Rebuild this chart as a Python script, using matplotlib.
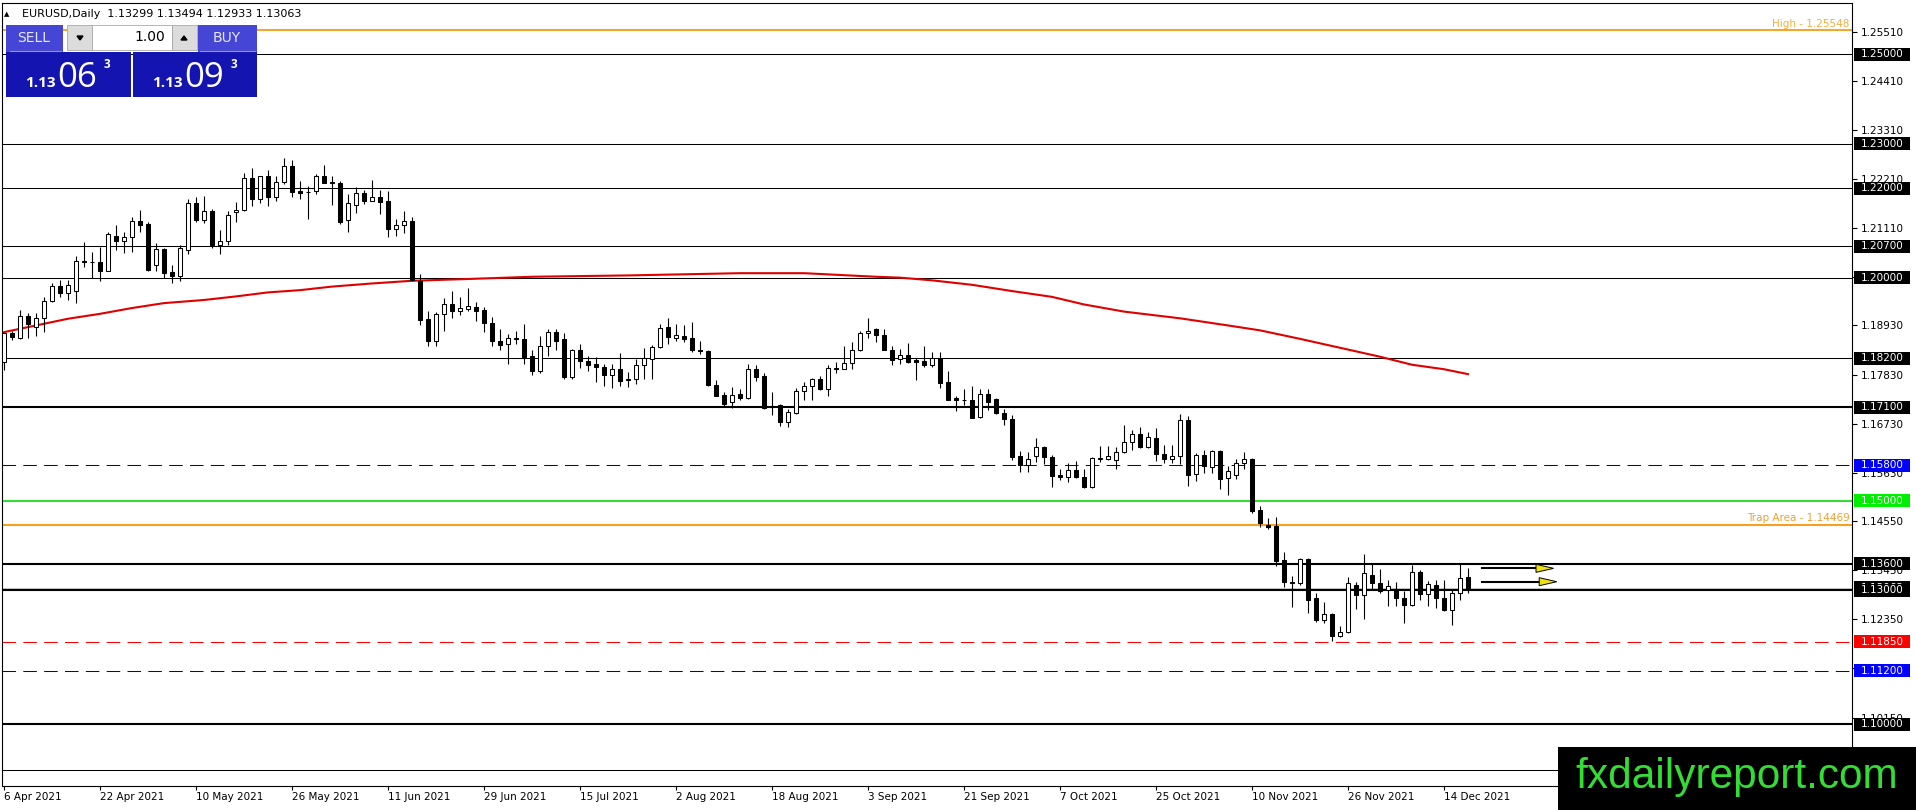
import numpy as np
import pandas as pd
import matplotlib
matplotlib.use("Agg")
import matplotlib.pyplot as plt
from matplotlib.patches import Rectangle, Polygon
import matplotlib.transforms as mtransforms

plt.rcParams['font.family'] = ['DejaVu Sans']

# --- data: EURUSD daily bars, 6 Apr 2021 .. 17 Dec 2021 ---
opens = [
    1.1811, 1.1876, 1.1866, 1.1914, 1.1889, 1.1909, 1.1947, 1.1981, 1.1965, 1.1971,
    1.2037, 1.2035, 1.2035, 1.2014, 1.2093, 1.2083, 1.2090, 1.2126, 1.2120, 1.2029,
    1.2064, 1.2013, 1.2003, 1.2063, 1.2167, 1.2128, 1.2149, 1.2072, 1.2081, 1.2146,
    1.2152, 1.2223, 1.2175, 1.2227, 1.2180, 1.2214, 1.2249, 1.2193, 1.2192, 1.2193,
    1.2227, 1.2214, 1.2212, 1.2128, 1.2162, 1.2189, 1.2172, 1.2180, 1.2171, 1.2108,
    1.2119, 1.2126, 1.1993, 1.1908, 1.1858, 1.1918, 1.1940, 1.1925, 1.1930, 1.1934,
    1.1928, 1.1898, 1.1858, 1.1851, 1.1865, 1.1863, 1.1824, 1.1790, 1.1846, 1.1878,
    1.1863, 1.1777, 1.1838, 1.1813, 1.1807, 1.1801, 1.1781, 1.1796, 1.1772, 1.1772,
    1.1804, 1.1818, 1.1844, 1.1889, 1.1864, 1.1869, 1.1865, 1.1838, 1.1835, 1.1760,
    1.1737, 1.1721, 1.1740, 1.1730, 1.1796, 1.1779, 1.1713, 1.1714, 1.1677, 1.1697,
    1.1746, 1.1757, 1.1774, 1.1751, 1.1798, 1.1796, 1.1809, 1.1839, 1.1876, 1.1884,
    1.1872, 1.1839, 1.1817, 1.1826, 1.1816, 1.1813, 1.1804, 1.1820, 1.1766, 1.1731,
    1.1727, 1.1727, 1.1688, 1.1739, 1.1729, 1.1697, 1.1684, 1.1600, 1.1580, 1.1601,
    1.1621, 1.1598, 1.1559, 1.1554, 1.1569, 1.1554, 1.1531, 1.1596, 1.1595, 1.1591,
    1.1610, 1.1632, 1.1650, 1.1621, 1.1641, 1.1606, 1.1593, 1.1600, 1.1681, 1.1561,
    1.1604, 1.1576, 1.1613, 1.1552, 1.1559, 1.1585, 1.1593, 1.1479, 1.1447, 1.1444,
    1.1367, 1.1319, 1.1317, 1.1369, 1.1283, 1.1233, 1.1247, 1.1197, 1.1206, 1.1313,
    1.1289, 1.1335, 1.1317, 1.1300, 1.1300, 1.1283, 1.1267, 1.1341, 1.1292, 1.1313,
    1.1283, 1.1256, 1.1293, 1.13299,
]
highs = [
    1.1875, 1.1881, 1.1928, 1.1921, 1.1921, 1.1956, 1.1988, 1.1995, 1.1995, 1.2048,
    1.2079, 1.2057, 1.2068, 1.2102, 1.2118, 1.2102, 1.2135, 1.2152, 1.2124, 1.2077,
    1.2066, 1.2028, 1.2072, 1.2175, 1.2180, 1.2182, 1.2154, 1.2107, 1.2149, 1.2169,
    1.2234, 1.2245, 1.2228, 1.2241, 1.2228, 1.2267, 1.2264, 1.2216, 1.2206, 1.2231,
    1.2253, 1.2227, 1.2216, 1.2187, 1.2202, 1.2196, 1.2219, 1.2196, 1.2193, 1.2131,
    1.2149, 1.2135, 1.2008, 1.1926, 1.1923, 1.1954, 1.1970, 1.1956, 1.1976, 1.1946,
    1.1934, 1.1911, 1.1885, 1.1874, 1.1881, 1.1896, 1.1838, 1.1869, 1.1884, 1.1884,
    1.1875, 1.1840, 1.1852, 1.1824, 1.1822, 1.1807, 1.1807, 1.1831, 1.1788, 1.1818,
    1.1843, 1.1849, 1.1896, 1.1910, 1.1896, 1.1893, 1.1900, 1.1859, 1.1838, 1.1771,
    1.1743, 1.1755, 1.1751, 1.1807, 1.1804, 1.1787, 1.1744, 1.1718, 1.1707, 1.1754,
    1.1766, 1.1776, 1.1780, 1.1805, 1.1811, 1.1848, 1.1857, 1.1880, 1.1910, 1.1888,
    1.1884, 1.1848, 1.1841, 1.1854, 1.1819, 1.1848, 1.1833, 1.1833, 1.1792, 1.1736,
    1.1751, 1.1757, 1.1751, 1.1750, 1.1730, 1.1705, 1.1693, 1.1612, 1.1610, 1.1641,
    1.1624, 1.1602, 1.1572, 1.1585, 1.1589, 1.1571, 1.1598, 1.1624, 1.1624, 1.1621,
    1.1669, 1.1660, 1.1666, 1.1654, 1.1664, 1.1626, 1.1625, 1.1694, 1.1691, 1.1608,
    1.1614, 1.1615, 1.1615, 1.1578, 1.1594, 1.1609, 1.1596, 1.1488, 1.1462, 1.1465,
    1.1386, 1.1333, 1.1373, 1.1373, 1.1293, 1.1274, 1.1250, 1.1220, 1.1330, 1.1318,
    1.1382, 1.1359, 1.1348, 1.1324, 1.1318, 1.1298, 1.1356, 1.1345, 1.1321, 1.1322,
    1.1324, 1.1302, 1.1359, 1.13494,
]
lows = [
    1.1793, 1.1861, 1.1863, 1.1866, 1.1870, 1.1878, 1.1945, 1.1956, 1.1951, 1.1943,
    1.2023, 1.1999, 1.1993, 1.2014, 1.2061, 1.2055, 1.2057, 1.2102, 1.2016, 1.2014,
    1.1999, 1.1987, 1.1993, 1.2052, 1.2125, 1.2123, 1.2066, 1.2052, 1.2072, 1.2125,
    1.2150, 1.2160, 1.2167, 1.2161, 1.2172, 1.2210, 1.2180, 1.2175, 1.2131, 1.2187,
    1.2211, 1.2163, 1.2120, 1.2103, 1.2145, 1.2164, 1.2171, 1.2143, 1.2092, 1.2094,
    1.2100, 1.1993, 1.1893, 1.1848, 1.1848, 1.1881, 1.1910, 1.1917, 1.1926, 1.1904,
    1.1879, 1.1846, 1.1839, 1.1807, 1.1852, 1.1807, 1.1783, 1.1787, 1.1825, 1.1837,
    1.1772, 1.1772, 1.1798, 1.1792, 1.1766, 1.1757, 1.1752, 1.1758, 1.1756, 1.1762,
    1.1772, 1.1773, 1.1842, 1.1852, 1.1859, 1.1855, 1.1833, 1.1828, 1.1758, 1.1734,
    1.1713, 1.1708, 1.1725, 1.1729, 1.1768, 1.1707, 1.1693, 1.1667, 1.1666, 1.1694,
    1.1727, 1.1727, 1.1749, 1.1736, 1.1787, 1.1795, 1.1795, 1.1835, 1.1866, 1.1857,
    1.1839, 1.1804, 1.1806, 1.1810, 1.1771, 1.1801, 1.1801, 1.1753, 1.1725, 1.1701,
    1.1716, 1.1686, 1.1686, 1.1703, 1.1695, 1.1669, 1.1591, 1.1565, 1.1565, 1.1587,
    1.1583, 1.1531, 1.1546, 1.1542, 1.1551, 1.1529, 1.1529, 1.1587, 1.1591, 1.1572,
    1.1608, 1.1615, 1.1618, 1.1619, 1.1589, 1.1584, 1.1585, 1.1582, 1.1533, 1.1544,
    1.1563, 1.1563, 1.1526, 1.1513, 1.1550, 1.1571, 1.1474, 1.1441, 1.1438, 1.1354,
    1.1307, 1.1263, 1.1312, 1.1250, 1.1229, 1.1226, 1.1186, 1.1196, 1.1205, 1.1259,
    1.1235, 1.1300, 1.1294, 1.1265, 1.1265, 1.1227, 1.1265, 1.1278, 1.1265, 1.1261,
    1.1253, 1.1222, 1.1279, 1.12933,
]
closes = [
    1.1875, 1.1868, 1.1914, 1.1896, 1.1910, 1.1947, 1.1981, 1.1965, 1.1983, 1.2037,
    1.2034, 1.2034, 1.2014, 1.2098, 1.2083, 1.2090, 1.2126, 1.2119, 1.2017, 1.2064,
    1.2011, 1.2003, 1.2066, 1.2167, 1.2128, 1.2149, 1.2072, 1.2081, 1.2140, 1.2151,
    1.2223, 1.2175, 1.2227, 1.2180, 1.2214, 1.2249, 1.2191, 1.2190, 1.2191, 1.2227,
    1.2213, 1.2211, 1.2125, 1.2167, 1.2189, 1.2172, 1.2180, 1.2170, 1.2108, 1.2119,
    1.2126, 1.1995, 1.1906, 1.1859, 1.1918, 1.1940, 1.1925, 1.1932, 1.1936, 1.1926,
    1.1898, 1.1858, 1.1850, 1.1866, 1.1862, 1.1823, 1.1790, 1.1846, 1.1878, 1.1859,
    1.1777, 1.1838, 1.1813, 1.1805, 1.1799, 1.1781, 1.1796, 1.1769, 1.1770, 1.1805,
    1.1819, 1.1844, 1.1887, 1.1868, 1.1871, 1.1863, 1.1837, 1.1835, 1.1760, 1.1736,
    1.1717, 1.1738, 1.1730, 1.1796, 1.1777, 1.1708, 1.1710, 1.1677, 1.1699, 1.1746,
    1.1757, 1.1772, 1.1751, 1.1798, 1.1796, 1.1809, 1.1839, 1.1877, 1.1881, 1.1871,
    1.1839, 1.1815, 1.1826, 1.1811, 1.1811, 1.1804, 1.1819, 1.1765, 1.1725, 1.1726,
    1.1726, 1.1686, 1.1739, 1.1721, 1.1697, 1.1683, 1.1598, 1.1580, 1.1593, 1.1621,
    1.1598, 1.1557, 1.1554, 1.1569, 1.1554, 1.1531, 1.1596, 1.1593, 1.1601, 1.1610,
    1.1632, 1.1650, 1.1621, 1.1644, 1.1606, 1.1593, 1.1600, 1.1681, 1.1559, 1.1604,
    1.1578, 1.1613, 1.1550, 1.1568, 1.1585, 1.1593, 1.1477, 1.1451, 1.1442, 1.1365,
    1.1319, 1.1316, 1.1370, 1.1278, 1.1233, 1.1247, 1.1197, 1.1207, 1.1317, 1.1289,
    1.1338, 1.1317, 1.1298, 1.1309, 1.1283, 1.1267, 1.1341, 1.1292, 1.1315, 1.1282,
    1.1256, 1.1293, 1.1328, 1.13063,
]
ask_price = 1.13093

# moving average (red), read at these bar positions
ma_bar = [0, 4, 8, 12, 16, 20, 25, 29, 33, 37, 41, 46, 51, 58, 66, 78, 92, 100,
          109, 112, 116, 121, 126, 131, 135, 140, 147, 153, 157, 162, 167, 172,
          176, 180, 183]
ma_val = [1.1878, 1.1893, 1.1908, 1.1919, 1.1932, 1.1943, 1.1950, 1.1958, 1.1967,
          1.1972, 1.1980, 1.1987, 1.1993, 1.1997, 1.2002, 1.2005, 1.2010, 1.2010,
          1.2002, 1.2000, 1.1994, 1.1984, 1.1970, 1.1957, 1.1940, 1.1924, 1.1909,
          1.1893, 1.1882, 1.1863, 1.1843, 1.1823, 1.1805, 1.1795, 1.1784]

# horizontal levels
levels = [1.25, 1.23, 1.22, 1.207, 1.20, 1.182, 1.171, 1.158, 1.15,
          1.136, 1.13, 1.1185, 1.112, 1.10]
level_colors = ['black', 'black', 'black', 'black', 'black', 'black', 'black',
                '#0000a8', '#33dd33', 'black', 'black', '#ff0000', '#0000a8', 'black']
level_widths = [0.75, 0.75, 0.75, 0.75, 0.75, 0.75, 1.5, 0.75, 1.5,
                1.5, 1.5, 0.75, 0.75, 1.5]
level_dashed = [False] * 7 + [True, False, False, False, True, True, False]
level_boxes = ['black'] * 7 + ['#0000ff', '#00ee00', 'black', 'black',
                              '#ff0000', '#0000ff', 'black']
extra_level = 1.0897
high_level = 1.25548
trap_level = 1.14469
arrow_levels = [1.13492, 1.13193]

ytick_vals = [1.2551, 1.2441, 1.2331, 1.2221, 1.2111, 1.2001, 1.1893, 1.1783,
              1.1673, 1.1563, 1.1455, 1.1345, 1.1235, 1.1125, 1.1015]

dates = pd.bdate_range('2021-04-06', periods=len(opens))

# --- figure ---
W, H = 1916, 810
fig = plt.figure(figsize=(W / 100, H / 100), dpi=100)
ax = fig.add_axes([2 / W, 1 - 786 / H, 1850 / W, 783 / H])
ax.set_xlim(-0.25, 231)
ax.set_ylim(1.08619, 1.26149)

o = np.array(opens); h = np.array(highs); l = np.array(lows); c = np.array(closes)
x = np.arange(len(o))
up = c >= o
ax.vlines(x, l, h, color='black', lw=0.8, zorder=3)
body_lo = np.minimum(o, c)
body_h = np.maximum(np.abs(c - o), 0.00004)
ax.bar(x[up], body_h[up], bottom=body_lo[up], width=0.55, color='white',
       edgecolor='black', lw=0.75, zorder=4)
ax.bar(x[~up], body_h[~up], bottom=body_lo[~up], width=0.55, color='black',
       edgecolor='black', lw=0.75, zorder=4)

ax.plot(ma_bar, ma_val, color='#e00000', lw=1.5, zorder=2.6)

for p, col, lw, dsh in zip(levels, level_colors, level_widths, level_dashed):
    ls = (0, (13, 7)) if dsh else '-'
    ax.axhline(p, color=col, lw=lw, ls=ls, zorder=2)
ax.axhline(extra_level, color='black', lw=0.75, zorder=2)
ax.axhline(c[-1], color='#c8c8c8', lw=0.75, zorder=1.9)
ax.axhline(high_level, color='#f0a830', lw=1.5, zorder=2)
ax.axhline(trap_level, color='#f5a020', lw=1.5, zorder=2)
ax.text(0.9988, high_level + 0.0003, f'High - {high_level:.5f}', color='#f0b040',
        fontsize=7.5, ha='right', va='bottom', transform=ax.get_yaxis_transform())
ax.text(0.9988, trap_level + 0.0003, f'Trap Area - {trap_level:.5f}', color='#f0a030',
        fontsize=7.5, ha='right', va='bottom', transform=ax.get_yaxis_transform())

# arrows drawn right of the last bar
last = len(o) - 1
for k, p in enumerate(arrow_levels):
    x0 = last + 1.75
    x1 = last + 8.5 + 0.4 * k
    x2 = x1 + 2.2
    ax.plot([x0, x1], [p, p], color='black', lw=1.5, zorder=5)
    ax.add_patch(Polygon([[x1, p + 0.0009], [x1, p - 0.0009], [x2, p]], closed=True,
                         facecolor='#f0e010', edgecolor='black', lw=0.7, zorder=6))

# axes styling
ax.yaxis.tick_right()
ax.set_yticks(ytick_vals)
ax.set_yticklabels([f'{v:.5f}' for v in ytick_vals])
ax.tick_params(axis='y', length=3.5, width=0.8, pad=2.5, labelsize=7.5)
xt = list(range(0, len(o), 12))
ax.set_xticks(xt)
ax.set_xticklabels([f'{dates[i].day} {dates[i]:%b %Y}' for i in xt], ha='left')
ax.tick_params(axis='x', length=3, width=0.8, pad=1.5, labelsize=7.5)
for s in ax.spines.values():
    s.set_linewidth(0.8)

# price boxes on the right axis
trans = mtransforms.blended_transform_factory(ax.transAxes, ax.transData)
bh = 13 / 4466.7
def price_box(p, bg, z):
    ax.add_patch(Rectangle((1.0011, p - bh / 2), 0.0303, bh, transform=trans,
                           facecolor=bg, edgecolor='none', clip_on=False, zorder=z))
    ax.text(1.0162, p, f'{p:.5f}', color='white', fontsize=7.5, ha='center',
            va='center', transform=trans, clip_on=False, zorder=z + 0.1)

price_box(c[-1], 'black', 5)
for p, bg in zip(levels, level_boxes):
    price_box(p, bg, 6)

# --- overlay: header, trade panel, watermark ---
ov = fig.add_axes([0, 0, 1, 1], zorder=10)
ov.set_xlim(0, W)
ov.set_ylim(H, 0)
ov.axis('off')
ov.patch.set_alpha(0)

ov.text(7, 14, '\u25b2', fontsize=5, ha='center', va='center')
ov.text(22, 14, f'EURUSD,Daily  {o[-1]:.5f} {h[-1]:.5f} {l[-1]:.5f} {c[-1]:.5f}',
        fontsize=8, ha='left', va='center')

hdr = '#4646d6'
pbox = '#1414b0'
ov.add_patch(Rectangle((6, 25), 57, 27, facecolor=hdr, edgecolor='none'))
ov.add_patch(Rectangle((198, 25), 59, 27, facecolor=hdr, edgecolor='none'))
ov.plot([10, 61], [51, 51], color='#9090f0', lw=0.8)
ov.plot([200, 255], [51, 51], color='#9090f0', lw=0.8)
ov.text(34, 38, 'SELL', color='#e6e6ff', fontsize=10, ha='center', va='center')
ov.text(227, 38, 'BUY', color='#e6e6ff', fontsize=10, ha='center', va='center')
ov.add_patch(Rectangle((67, 25), 25, 25, facecolor='#dcdcdc', edgecolor='#a8a8a8', lw=0.6))
ov.add_patch(Rectangle((92, 25), 80, 25, facecolor='white', edgecolor='#a8a8a8', lw=0.6))
ov.add_patch(Rectangle((172, 25), 25, 25, facecolor='#dcdcdc', edgecolor='#a8a8a8', lw=0.6))
ov.add_patch(Polygon([[77, 36], [83, 36], [80, 40]], closed=True, color='black'))
ov.add_patch(Polygon([[181, 40], [187, 40], [184, 36]], closed=True, color='black'))
ov.text(165, 37, '1.00', fontsize=10, ha='right', va='center')

ov.add_patch(Rectangle((6, 52), 125, 45, facecolor=pbox, edgecolor='none'))
ov.add_patch(Rectangle((133, 52), 124, 45, facecolor=pbox, edgecolor='none'))
for px0, price in [(6, c[-1]), (133, ask_price)]:
    s = f'{price:.5f}'
    ov.text(px0 + 50, 87, s[:4], color='white', fontsize=11, fontweight='bold',
            family='Open Sans', ha='right', va='baseline')
    ov.text(px0 + 51, 87, s[4:6], color='white', fontsize=25,
            family='Open Sans', ha='left', va='baseline')
    ov.text(px0 + 101, 68, s[6], color='white', fontsize=8.5, fontweight='bold',
            family='Open Sans', ha='center', va='baseline')

ov.add_patch(Rectangle((1558, 747), 358, 63, facecolor='black', edgecolor='none'))
ov.text(1737, 788, 'fxdailyreport.com', color='#33dd33', fontsize=30.5,
        family='Liberation Sans', ha='center', va='baseline')

fig.savefig('out.png', dpi=100)
